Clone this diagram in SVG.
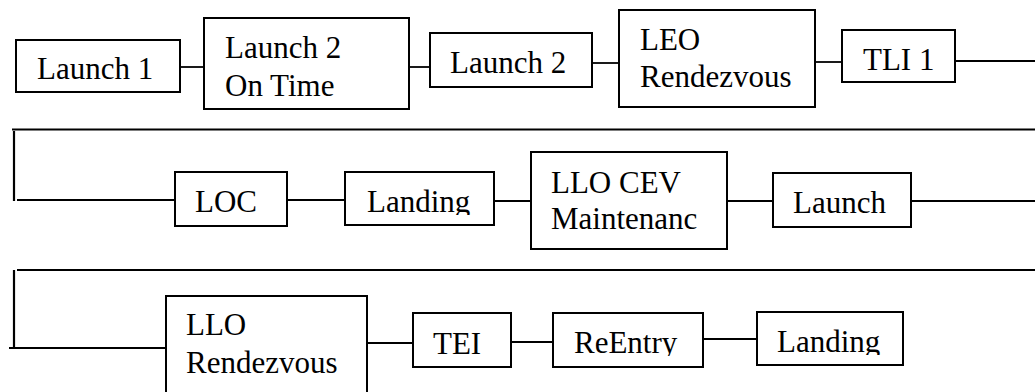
<svg xmlns="http://www.w3.org/2000/svg" width="1035" height="392" viewBox="0 0 1035 392">
<defs>
<style>
.box{fill:#fff;stroke:#000;stroke-width:2}
.t{font-family:'Liberation Serif','Times New Roman',serif;font-size:31px;fill:#000}
.c{fill:none;stroke:#000;stroke-width:1.8}
.s{fill:none;stroke:#000;stroke-width:2.2}
</style>
<clipPath id="clipL2"><rect x="345" y="172" width="149" height="43"/></clipPath>
<clipPath id="clipRE"><rect x="553" y="313" width="150" height="43"/></clipPath>
<clipPath id="clipL3"><rect x="757" y="312" width="146" height="43"/></clipPath>
</defs>
<rect width="1035" height="392" fill="#fff"/>
<g id="connectors">
<line class="c" x1="180" y1="67" x2="205" y2="67"/>
<line class="c" x1="409" y1="67" x2="431" y2="67"/>
<line class="c" x1="592" y1="63" x2="619" y2="63"/>
<line class="c" x1="815" y1="62" x2="842" y2="62"/>
<line class="c" x1="955" y1="61" x2="1035" y2="61"/>
<line class="s" x1="12" y1="129.5" x2="1035" y2="129.5"/>
<line class="s" x1="14" y1="131" x2="14" y2="201"/>
<line class="c" x1="17" y1="200" x2="175" y2="200"/>
<line class="c" x1="287" y1="200" x2="345" y2="200"/>
<line class="c" x1="494" y1="201" x2="531" y2="201"/>
<line class="c" x1="727" y1="201" x2="773" y2="201"/>
<line class="c" x1="911" y1="201" x2="1035" y2="201"/>
<line class="s" x1="17" y1="270" x2="1035" y2="270"/>
<line class="s" x1="14" y1="270" x2="14" y2="348"/>
<line class="s" x1="9" y1="348" x2="166" y2="348"/>
<line class="c" x1="367" y1="343" x2="413" y2="343"/>
<line class="c" x1="511" y1="342" x2="553" y2="342"/>
<line class="c" x1="703" y1="339" x2="757" y2="339"/>
</g>
<g id="launch1"><rect class="box" x="16" y="40" width="164" height="52"/><text class="t" x="37" y="79">Launch 1</text></g>
<g id="launch2ontime"><rect class="box" x="204" y="18" width="205" height="91"/><text class="t" x="225" y="58">Launch 2</text><text class="t" x="225" y="96">On Time</text></g>
<g id="launch2"><rect class="box" x="430" y="33" width="162" height="54"/><text class="t" x="450" y="73">Launch 2</text></g>
<g id="leo"><rect class="box" x="619" y="10" width="196" height="97"/><text class="t" x="640" y="50">LEO</text><text class="t" x="640" y="87">Rendezvous</text></g>
<g id="tli1"><rect class="box" x="842" y="30" width="113" height="52"/><text class="t" x="863" y="70">TLI 1</text></g>
<g id="loc"><rect class="box" x="175" y="172" width="112" height="54"/><text class="t" x="195" y="212">LOC</text></g>
<g id="landing1"><rect class="box" x="345" y="172" width="149" height="53"/><text class="t" x="367" y="212" clip-path="url(#clipL2)">Landing</text></g>
<g id="llocev"><rect class="box" x="531" y="152" width="196" height="97"/><text class="t" x="551" y="193">LLO CEV</text><text class="t" x="551" y="229">Maintenanc</text></g>
<g id="launch"><rect class="box" x="773" y="173" width="138" height="54"/><text class="t" x="793" y="213">Launch</text></g>
<g id="llorendezvous"><rect class="box" x="166" y="296" width="201" height="100"/><text class="t" x="186" y="335">LLO</text><text class="t" x="186" y="373">Rendezvous</text></g>
<g id="tei"><rect class="box" x="413" y="313" width="98" height="54"/><text class="t" x="433" y="354">TEI</text></g>
<g id="reentry"><rect class="box" x="553" y="313" width="150" height="54"/><text class="t" x="574" y="353" clip-path="url(#clipRE)">ReEntry</text></g>
<g id="landing2"><rect class="box" x="757" y="312" width="146" height="53"/><text class="t" x="777" y="352" clip-path="url(#clipL3)">Landing</text></g>
</svg>
